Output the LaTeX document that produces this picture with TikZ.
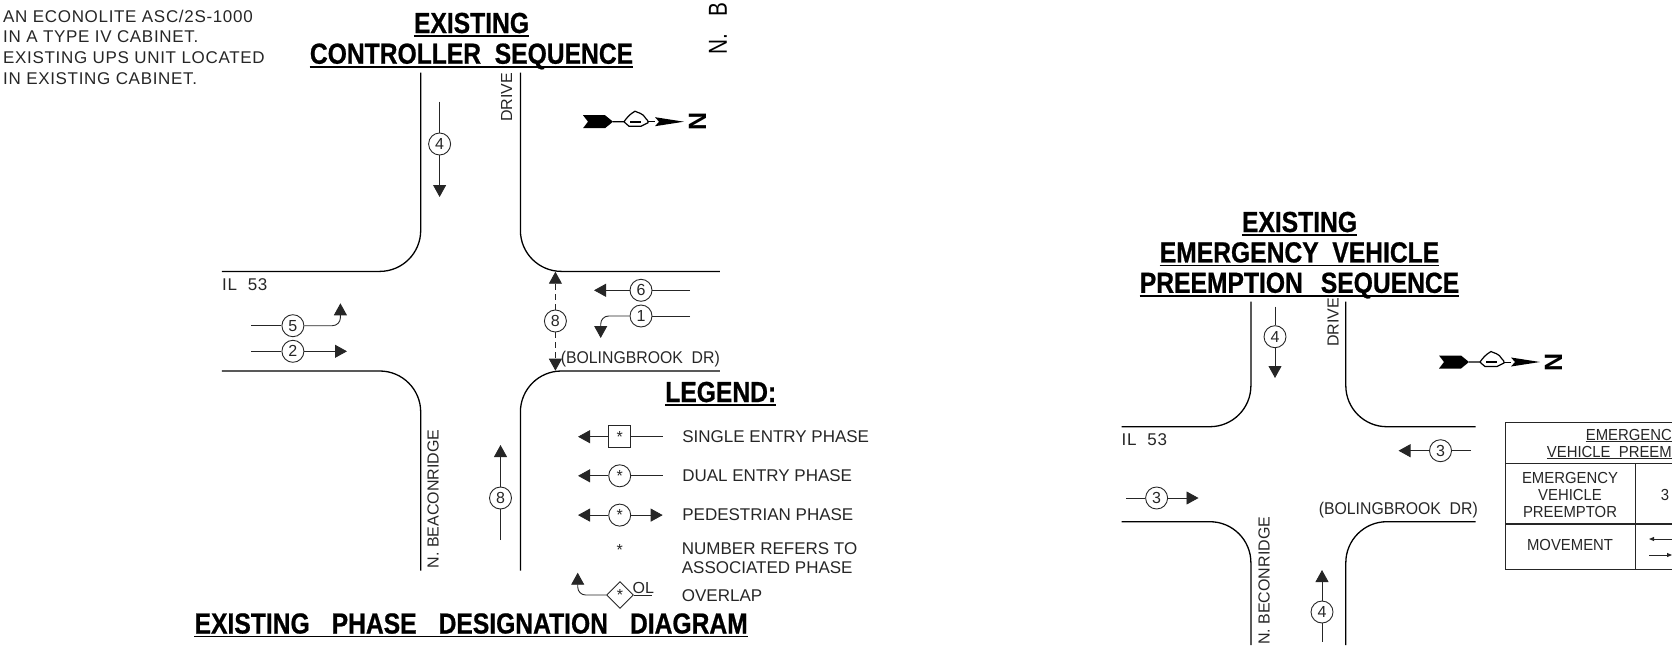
\documentclass[tikz,border=0pt]{standalone}
\usepackage{fontspec}
\setmainfont{Liberation Sans}
\newfontfamily\headfont{Liberation Sans}[FakeStretch=0.85,BoldFeatures={FakeBold=0.7}]
\newfontfamily\stubfont{Liberation Sans}[FakeStretch=0.8]
\newfontfamily\notefont{Liberation Sans}[LetterSpace=4]
\newfontfamily\narrowfont{Liberation Sans}[FakeStretch=0.93]
\usetikzlibrary{positioning,shapes.geometric,arrows.meta}
\colorlet{ink}{black!85}
\tikzstyle{cad}=[
	inner sep=0pt,
	text=ink,
	align=left,
	font=\fontsize{17}{18}\selectfont
	]
\tikzstyle{notes}=[cad, font=\notefont\fontsize{17}{20.7}\selectfont]
\tikzstyle{cell}=[cad, align=center, font=\narrowfont\fontsize{16}{17}\selectfont]
\tikzstyle{cross}=[cad, font=\narrowfont\fontsize{17}{17}\selectfont]
\tikzstyle{roadname}=[cad, rotate=90, anchor=west, font=\fontsize{16}{16}\selectfont]
\tikzstyle{heading}=[
	inner xsep=0pt,
	inner ysep=3pt,
	text=black,
	text height=21pt,
	text depth=0pt,
	font=\headfont\bfseries\fontsize{29}{29}\selectfont
	]
\tikzstyle{rule}=[line width=1.5pt]
\tikzstyle{road}=[line width=1.3pt, rounded corners=41pt]
\tikzstyle{thin}=[line width=0.9pt, draw=ink]
\tikzstyle{flow}=[thin, -{Triangle[length=12pt,width=13pt]}]
\tikzstyle{phase}=[circle, draw=ink, line width=0.9pt, minimum size=22pt, inner sep=0pt, text=ink, font=\fontsize{16}{16}\selectfont]
\tikzstyle{boxphase}=[rectangle, draw=ink, line width=0.9pt, minimum size=22pt, inner sep=0pt, text=ink, font=\fontsize{16}{16}\selectfont]
\tikzstyle{overlap}=[diamond, draw=ink, line width=0.9pt, minimum size=27pt, inner sep=0pt, text=ink, font=\fontsize{16}{16}\selectfont]
\tikzset{
	northmark/.pic={
		\fill (0,-6.5) -- (22,-6.5) -- (30,0) -- (22,6.5) -- (0,6.5) -- (5,0) -- cycle;
		\draw[line width=1.2pt] (30,0) -- (41,0) .. controls (44,-4) and (46,-7) .. (52,-10.5) .. controls (54,-9) and (60,-9) .. (63,-3) .. controls (65,-2) and (65,0) .. (65,1) -- (58,4.5) -- (46,4.5) .. controls (44,3) and (42,1) .. (41,0);
		\draw[line width=0.9pt] (65,0) -- (72,0);
		\fill (47,-1.2) rectangle (58,1.2);
		\fill (72,-4.5) -- (101,0) -- (72,4.5) -- (76,0) -- cycle;
		\node[rotate=90, inner sep=0pt, font=\bfseries\fontsize{25}{25}\selectfont] at (114.5,0) {N};
	}
}

\begin{document}
\begin{tikzpicture}[x=1pt, y=-1pt]

		\useasboundingbox (0,0) rectangle (1672,645);

		% notes and road stub at the top
		\node (Notes) [notes, anchor=west] at (3,47.2) {
			AN ECONOLITE ASC/2S-1000\\ IN A TYPE IV CABINET.\\ EXISTING UPS UNIT LOCATED\\ IN EXISTING CABINET.
		};
		\node (RoadStub) [rotate=90, anchor=west, inner sep=0pt, font=\stubfont\fontsize{26}{26}\selectfont] at (718,55) {N.~~~B};

		% left titles
		\node (ExistingTitle) [heading, anchor=base] at (471.5,33) {EXISTING};
		\node (ControllerTitle) [heading, below=3.3pt of ExistingTitle] {CONTROLLER\ \ SEQUENCE};
		\node (PhaseTitle) [heading, anchor=base] at (471.2,633.5) {EXISTING\hspace{22pt}PHASE\hspace{22pt}DESIGNATION\hspace{22pt}DIAGRAM};
		\node (LegendTitle) [heading, anchor=base] at (720.7,402) {LEGEND:};
		\draw[rule] (ExistingTitle.south west) -- (ExistingTitle.south east);
		\draw[rule] (ControllerTitle.south west) -- (ControllerTitle.south east);
		\draw[rule] (PhaseTitle.south west) -- (PhaseTitle.south east);
		\draw[rule] (LegendTitle.south west) -- (LegendTitle.south east);

		% left intersection
		\draw[road] (420.7,72.5) |- (221.8,271.4);
		\draw[road] (520.4,72.5) |- (719.8,271.4);
		\draw[road] (420.7,570.5) |- (221.8,371);
		\draw[road] (520.4,570.5) |- (719.8,371);
		\node (IlLeft) [notes, anchor=west] at (222,285) {IL\ \ 53};
		\node (BrookLeft) [cross, anchor=east] at (720,359) {(BOLINGBROOK\ \ DR)};
		\node (DriveLeft) [roadname] at (506.5,122) {DRIVE};
		\node (BeaconLeft) [roadname] at (433,568.5) {N. BEACONRIDGE};
		\pic at (583,121.7) {northmark};

		% left phases
		\node (FourA) [phase] at (439.6,144) {4};
		\coordinate (FourATail) at (439.6,101.7);
		\coordinate (FourATip) at (439.6,197);
		\draw[thin] (FourATail) -- (FourA);
		\draw[flow] (FourA) -- (FourATip);

		\node (FiveA) [phase] at (292.9,325.7) {5};
		\coordinate (FiveATail) at (251,325.7);
		\coordinate (FiveATip) at (340.4,303.3);
		\draw[thin] (FiveATail) -- (FiveA);
		\draw[flow, rounded corners=8pt] (FiveA) -| (FiveATip);

		\node (TwoA) [phase] at (292.9,351.3) {2};
		\coordinate (TwoATail) at (251,351.3);
		\coordinate (TwoATip) at (347,351.3);
		\draw[thin] (TwoATail) -- (TwoA);
		\draw[flow] (TwoA) -- (TwoATip);

		\node (SixA) [phase] at (641,290.3) {6};
		\coordinate (SixATail) at (690,290.3);
		\coordinate (SixATip) at (594,290.3);
		\draw[thin] (SixATail) -- (SixA);
		\draw[flow] (SixA) -- (SixATip);

		\node (OneA) [phase] at (641,316) {1};
		\coordinate (OneATail) at (690,316);
		\coordinate (OneATip) at (600.7,338);
		\draw[thin] (OneATail) -- (OneA);
		\draw[flow, rounded corners=8pt] (OneA) -| (OneATip);

		\node (EightWalk) [phase] at (555.4,321) {8};
		\coordinate (EightWalkUp) at (555.4,271.7);
		\coordinate (EightWalkDown) at (555.4,370.7);
		\draw[flow, dash pattern=on 6pt off 4pt] (EightWalk) -- (EightWalkUp);
		\draw[flow, dash pattern=on 6pt off 4pt] (EightWalk) -- (EightWalkDown);

		\node (EightA) [phase] at (500.5,498) {8};
		\coordinate (EightATail) at (500.5,540);
		\coordinate (EightATip) at (500.5,445);
		\draw[thin] (EightATail) -- (EightA);
		\draw[flow] (EightA) -- (EightATip);

		% legend
		\node (SingleMark) [boxphase] at (619.7,436.7) {*};
		\node (DualMark) [phase, below=16.2pt of SingleMark] {*};
		\node (PedMark) [phase, below=16.4pt of DualMark] {*};
		\node (StarMark) [inner sep=0pt, text=ink, font=\fontsize{16}{16}\selectfont] at (619.7,549.5) {*};
		\node (OverlapMark) [overlap] at (620,595) {*};
		\node (SingleLabel) [cad, right=51pt of SingleMark] {SINGLE ENTRY PHASE};
		\node (DualLabel) [cad, right=51pt of DualMark] {DUAL ENTRY PHASE};
		\node (PedLabel) [cad, right=51pt of PedMark] {PEDESTRIAN PHASE};
		\node (StarLabel) [cad, anchor=west, font=\fontsize{17}{19}\selectfont] at (681.7,558.5) {NUMBER REFERS TO\\ ASSOCIATED PHASE};
		\node (OverlapLabel) [cad, anchor=west] at (681.7,596) {OVERLAP};
		\node (OverlapTag) [cad, anchor=south west, font=\fontsize{16}{16}\selectfont] at (632.5,594) {OL};

		\coordinate (SingleTail) at (662.7,436.7);
		\coordinate (SingleTip) at (578,436.7);
		\draw[thin] (SingleMark) -- (SingleTail);
		\draw[flow] (SingleMark) -- (SingleTip);
		\coordinate (DualTail) at (SingleTail |- DualMark);
		\coordinate (DualTip) at (SingleTip |- DualMark);
		\draw[thin] (DualMark) -- (DualTail);
		\draw[flow] (DualMark) -- (DualTip);
		\coordinate (PedLeft) at (SingleTip |- PedMark);
		\coordinate (PedRight) at (SingleTail |- PedMark);
		\draw[flow] (PedMark) -- (PedLeft);
		\draw[flow] (PedMark) -- (PedRight);
		\coordinate (OverlapTail) at (652,595);
		\coordinate (OverlapTip) at (577.7,572.7);
		\draw[thin] (OverlapMark) -- (OverlapTail);
		\draw[flow, rounded corners=8pt] (OverlapMark) -| (OverlapTip);

		% right titles
		\node (ExistingTitleB) [heading, anchor=base] at (1299.5,232) {EXISTING};
		\node (EmergencyTitle) [heading, below=3pt of ExistingTitleB] {EMERGENCY\ \ VEHICLE};
		\node (PreemptTitle) [heading, below=3pt of EmergencyTitle] {PREEMPTION\hspace{18pt}SEQUENCE};
		\draw[rule] (ExistingTitleB.south west) -- (ExistingTitleB.south east);
		\draw[rule] (EmergencyTitle.south west) -- (EmergencyTitle.south east);
		\draw[rule] (PreemptTitle.south west) -- (PreemptTitle.south east);

		% right intersection
		\draw[road] (1250.9,301.7) |- (1121.5,426.7);
		\draw[road] (1345.8,301.7) |- (1475.6,426.7);
		\draw[road] (1250.9,645) |- (1121.5,521.7);
		\draw[road] (1345.8,645) |- (1475.6,521.7);
		\node (IlRight) [notes, anchor=west] at (1121.5,440) {IL\ \ 53};
		\node (BrookRight) [cross, anchor=east] at (1478,510) {(BOLINGBROOK\ \ DR)};
		\node (DriveRight) [roadname] at (1333,347) {DRIVE};
		\node (BeaconRight) [roadname] at (1264,645) {N. BECONRIDGE};
		\pic at (1439,362) {northmark};

		% right phases
		\node (FourB) [phase] at (1275,336.7) {4};
		\coordinate (FourBTail) at (1275,306.7);
		\coordinate (FourBTip) at (1275,378);
		\draw[thin] (FourBTail) -- (FourB);
		\draw[flow] (FourB) -- (FourBTip);

		\node (ThreeB) [phase] at (1440.5,450.7) {3};
		\coordinate (ThreeBTail) at (1471,450.7);
		\coordinate (ThreeBTip) at (1398.5,450.7);
		\draw[thin] (ThreeBTail) -- (ThreeB);
		\draw[flow] (ThreeB) -- (ThreeBTip);

		\node (ThreeC) [phase] at (1156.6,498) {3};
		\coordinate (ThreeCTail) at (1126,498);
		\coordinate (ThreeCTip) at (1198.5,498);
		\draw[thin] (ThreeCTail) -- (ThreeC);
		\draw[flow] (ThreeC) -- (ThreeCTip);

		\node (FourC) [phase] at (1322,612) {4};
		\coordinate (FourCTail) at (1322,641.7);
		\coordinate (FourCTip) at (1322,570);
		\draw[thin] (FourCTail) -- (FourC);
		\draw[flow] (FourC) -- (FourCTip);

		% preemption table, running off the page
		\draw[line width=1.2pt, draw=ink] (1672,422.3) -- (1505.7,422.3) -- (1505.7,569.3) -- (1672,569.3);
		\draw[line width=1.2pt, draw=ink] (1505.7,463.3) -- (1672,463.3);
		\draw[line width=1.2pt, draw=ink] (1505.7,524) -- (1672,524);
		\draw[line width=1pt, draw=ink] (1635.7,463.3) -- (1635.7,569.3);
		\node (TableHeadA) [cell, anchor=east, inner ysep=1pt] at (1672,434.5) {EMERGENC};
		\node (TableHeadB) [cell, anchor=east, inner ysep=1pt] at (1672,452) {VEHICLE\ \ PREEM};
		\draw[thin] (TableHeadA.south west) -- (TableHeadA.south east);
		\draw[thin] (TableHeadB.south west) -- (TableHeadB.south east);
		\node (PreemptorCell) [cell] at (1570,494.5) {EMERGENCY\\ VEHICLE\\ PREEMPTOR};
		\node (MovementCell) [cell] at (1570,545) {MOVEMENT};
		\node (ThreeCell) [cell] at (1665,495) {3};
		\coordinate (MoveUpTail) at (1672,539);
		\coordinate (MoveUpTip) at (1649,539);
		\coordinate (MoveDownTail) at (1649,555);
		\coordinate (MoveDownTip) at (1672,555);
		\draw[thin, -{Triangle[length=5pt,width=4pt]}] (MoveUpTail) -- (MoveUpTip);
		\draw[thin, -{Triangle[length=5pt,width=4pt]}] (MoveDownTail) -- (MoveDownTip);

	\end{tikzpicture}
\end{document}
